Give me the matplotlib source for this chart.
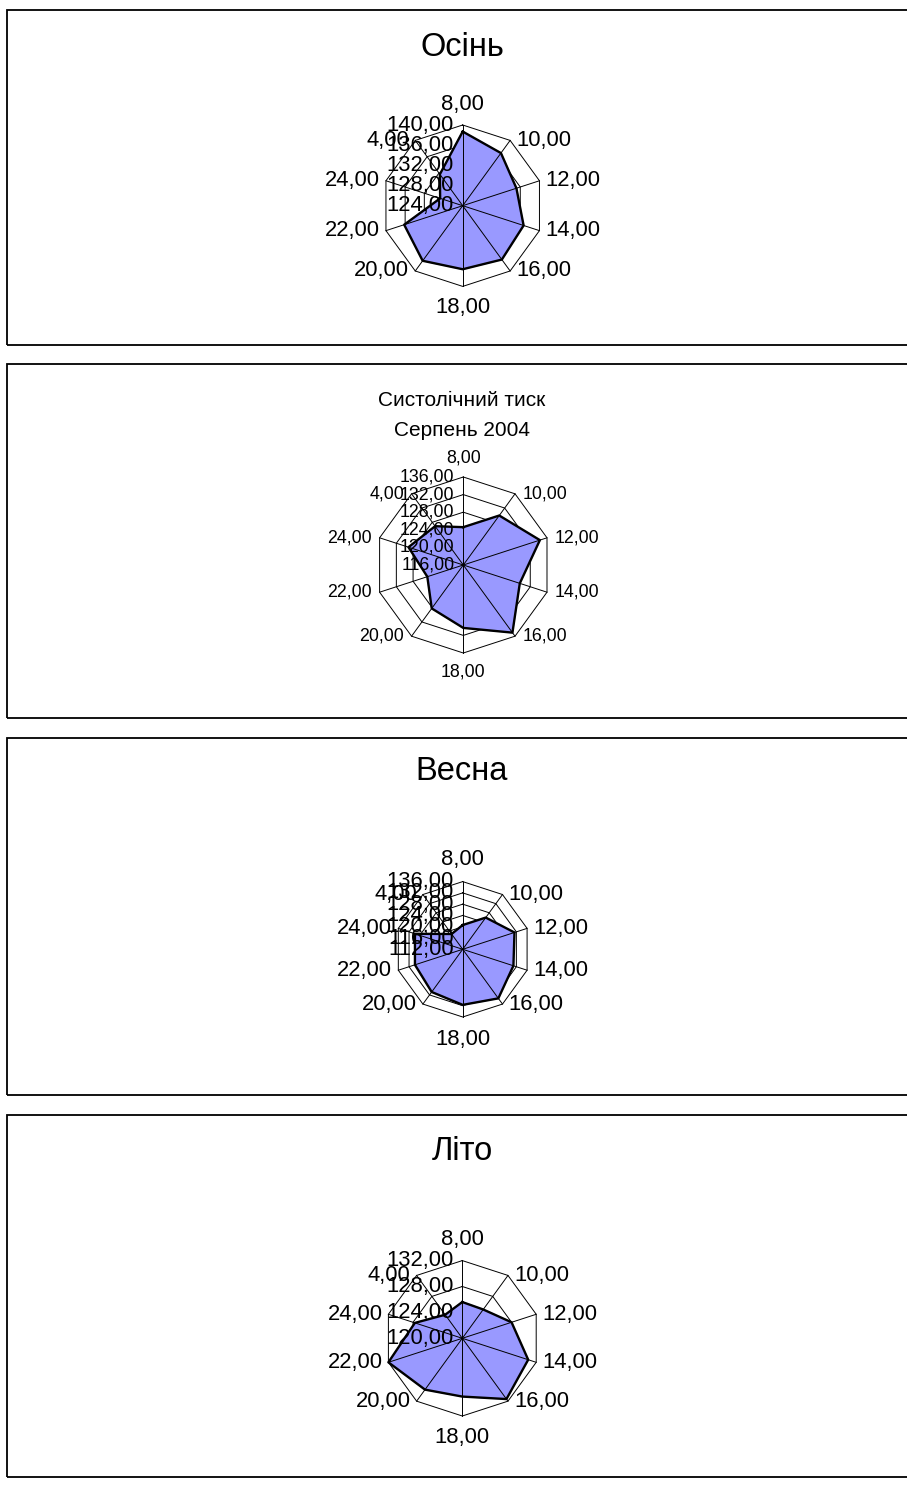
import numpy as np
import matplotlib
matplotlib.use("Agg")
import matplotlib.pyplot as plt
from matplotlib.patches import Rectangle

plt.rcParams["font.family"] = ["Liberation Sans", "DejaVu Sans"]

# Measurement times (clockwise from the top)
hours = ["8,00", "10,00", "12,00", "14,00", "16,00",
         "18,00", "20,00", "22,00", "24,00", "4,00"]

# Mean systolic pressure at each time
autumn = [138.7, 136.9, 135.2, 136.7, 137.2, 136.6, 137.5, 136.2, 128.7, 131.7]
august = [124.6, 129.9, 134.3, 129.5, 135.0, 130.3, 128.2, 124.6, 129.1, 126.9]
spring = [120.6, 125.9, 131.3, 130.9, 133.5, 131.7, 130.7, 129.8, 129.8, 118.7]
summer = [125.6, 125.5, 128.0, 130.7, 131.6, 129.0, 129.8, 132.0, 127.7, 124.5]

# Radial scale of each panel: (centre, outer ring, step)
autumn_scale = (124, 140, 4)
august_scale = (116, 136, 4)
spring_scale = (112, 136, 4)
summer_scale = (120, 132, 4)

W, H = 907, 1488
fig = plt.figure(figsize=(W / 100, H / 100), dpi=100)


def fbox(x0, y0, x1, y1):
    return [x0 / W, 1 - y1 / H, (x1 - x0) / W, (y1 - y0) / H]


def fmt(v):
    return f"{v:.2f}".replace(".", ",")


FILL = "#9999FF"


def radar(cx, cy, R, values, scale, fs, pad_v, pad_h):
    rmin, rmax, step = scale
    ax = fig.add_axes(fbox(cx - R, cy - R, cx + R, cy + R), projection="polar")
    ax.set_theta_zero_location("N")
    ax.set_theta_direction(-1)
    ax.set_ylim(rmin, rmax)
    ax.axis("off")
    n = len(hours)
    theta = np.arange(n) * 2 * np.pi / n
    tc = np.append(theta, theta[0])

    # polygon grid rings and spokes
    rings = np.arange(rmin + step, rmax + 0.01, step)
    for v in rings:
        ax.plot(tc, [v] * (n + 1), color="black", lw=0.7, zorder=1,
                clip_on=False)
    vals = np.append(values, values[0])
    ax.fill(tc, vals, color=FILL, zorder=2, clip_on=False)
    for t in theta:
        ax.plot([t, t], [rmin, rmax], color="black", lw=0.7, zorder=3,
                clip_on=False)
    ax.plot(tc, vals, color="black", lw=1.7, zorder=4, clip_on=False)

    # category labels around the outer ring
    for t, lab in zip(theta, hours):
        s, c = np.sin(t), np.cos(t)
        if abs(s) < 0.1:
            off = (0, pad_v if c > 0 else -pad_v)
            ha = "center"
        else:
            off = (pad_h if s > 0 else -pad_h, 0)
            ha = "left" if s > 0 else "right"
        ax.annotate(lab, xy=(t, rmax), xytext=off, textcoords="offset points",
                    ha=ha, va="center", fontsize=fs, annotation_clip=False)

    # value labels along the first spoke
    for v in np.arange(rmin, rmax + 0.01, step):
        ax.annotate(fmt(v), xy=(0, v), xytext=(-6.5, 0),
                    textcoords="offset points", ha="right", va="center",
                    fontsize=fs, zorder=5, annotation_clip=False)
    return ax


# panel frames
for (y0, y1) in [(10, 345), (364, 717.5), (738, 1095), (1115, 1477)]:
    fig.add_artist(Rectangle((7 / W, 1 - y1 / H), 1.1, (y1 - y0) / H,
                             transform=fig.transFigure, fill=False,
                             edgecolor="black", lw=1.3))

# Autumn
fig.text(462 / W, 1 - 48 / H, "Осінь", ha="center", va="center", fontsize=23.5)
radar(462.7, 205.7, 80.7, autumn, autumn_scale, 15.8, 15, 4.3)

# August 2004
fig.text(462 / W, 1 - 401 / H, "Систолічний тиск", ha="center", va="center",
         fontsize=15)
fig.text(462 / W, 1 - 431 / H, "Серпень 2004", ha="center", va="center",
         fontsize=15)
radar(463.3, 565, 88, august, august_scale, 12.8, 13.5, 5.3)

# Spring
fig.text(462 / W, 1 - 772 / H, "Весна", ha="center", va="center", fontsize=23.5)
radar(462.7, 949.3, 67.7, spring, spring_scale, 15.8, 16, 4.3)

# Summer
fig.text(462 / W, 1 - 1151 / H, "Літо", ha="center", va="center", fontsize=23.5)
radar(462.3, 1338.3, 77.7, summer, summer_scale, 15.8, 15.5, 4.3)

fig.savefig("out.png", dpi=100, facecolor="white")
